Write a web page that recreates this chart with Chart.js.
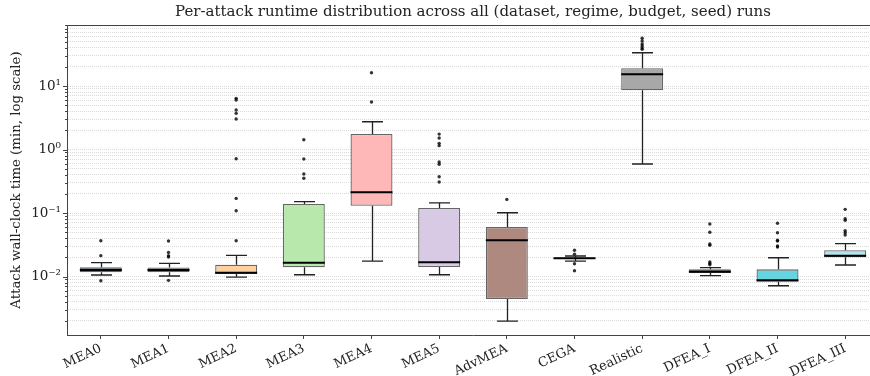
<!DOCTYPE html>
<html>
<head>
<meta charset="utf-8">
<script src="https://cdn.jsdelivr.net/npm/chart.js@4/dist/chart.umd.min.js"></script>
<style>
  html, body { margin: 0; padding: 0; background: #fff; overflow: hidden; }
  #wrap { position: relative; width: 882px; height: 376px; }
</style>
</head>
<body>
<div id="wrap"><canvas id="chart"></canvas></div>
<script>
// Attack methods (one box per method)
const attacks = ['MEA0', 'MEA1', 'MEA2', 'MEA3', 'MEA4', 'MEA5', 'AdvMEA', 'CEGA', 'Realistic', 'DFEA_I', 'DFEA_II', 'DFEA_III'];

// Five-number summaries of wall-clock time, in minutes
const whiskerLow  = [0.01056, 0.0102, 0.0098, 0.01067, 0.01754, 0.01067, 0.00199, 0.01754, 0.592, 0.0103, 0.00716, 0.0152];
const quartile1   = [0.01164, 0.0117, 0.01094, 0.01396, 0.1303, 0.01412, 0.00443, 0.01888, 8.56, 0.01135, 0.00828, 0.02004];
const medians     = [0.01265, 0.01265, 0.01148, 0.0165, 0.212, 0.01675, 0.0372, 0.01936, 15.3, 0.0119, 0.00871, 0.0213];
const quartile3   = [0.01396, 0.0139, 0.01535, 0.1386, 1.754, 0.12, 0.0603, 0.0200, 19.0, 0.01297, 0.01297, 0.0259];
const whiskerHigh = [0.0165, 0.01614, 0.0216, 0.1507, 2.74, 0.145, 0.101, 0.02104, 33.4, 0.01377, 0.01977, 0.0329];

// Runs beyond the whiskers
const outliers = [
  [0.0086, 0.0213, 0.0366],
  [0.0087, 0.0203, 0.0213, 0.024, 0.0362],
  [0.0366, 0.1086, 0.170, 0.716, 3.02, 3.71, 4.19, 6.03, 6.4],
  [0.352, 0.411, 0.708, 1.426],
  [5.6, 16.2],
  [0.308, 0.373, 0.585, 0.635, 1.15, 1.25, 1.52, 1.75],
  [0.164],
  [0.0123, 0.0159, 0.0224, 0.0259],
  [37.8, 39.7, 42.6, 45.8, 51.2, 56.4],
  [0.01535, 0.0161, 0.0169, 0.031, 0.0325, 0.0497, 0.0671],
  [0.0292, 0.0302, 0.0362, 0.0372, 0.049, 0.0689],
  [0.0451, 0.049, 0.0526, 0.0767, 0.0813, 0.1143]
];

const boxColors = ['#46627e', '#8c98a5', '#ffd0a0', '#b9e8ad', '#ffb8b8', '#d8cae4', '#ad8980', '#a0a0a0', '#a8a8a8', '#333333', '#66d5e0', '#b2e5ee'];

// Log axis: labelled decades and the range shown
const yDecades = [0.001, 0.01, 0.1, 1, 10];
const yLabelled = [0.01, 0.1, 1, 10];
const yTickLabels = ['10\u207B\u00B2', '10\u207B\u00B9', '10\u2070', '10\u00B9'];
const yMin = 0.0012;
const yMax = 91.4;

const SERIF = "'DejaVu Serif', serif";

// Every 1..9 x 10^k position inside the range (grid lines and ticks)
const yGridValues = [];
yDecades.forEach(d => {
  for (let m = 1; m <= 9; m++) {
    const v = +(d * m).toPrecision(6);
    if (v >= yMin && v <= yMax) yGridValues.push(v);
  }
});
const isLabelled = v => yLabelled.some(t => Math.abs(t - v) / t < 1e-6);

const outlierPoints = [];
attacks.forEach((name, i) => outliers[i].forEach(v => outlierPoints.push({ x: name, y: v })));

// Whiskers, caps, medians, y tick marks and the top spine
const boxDecor = {
  id: 'boxDecor',
  afterDatasetsDraw(chart) {
    const { ctx, scales: { y } } = chart;
    const meta = chart.getDatasetMeta(0);
    ctx.save();
    ctx.lineCap = 'butt';
    attacks.forEach((name, i) => {
      const bar = meta.data[i];
      const cx = Math.round(bar.x) + 0.5;
      const half = bar.width / 2;
      const capHalf = half / 2;
      const pLo = y.getPixelForValue(whiskerLow[i]);
      const pQ1 = y.getPixelForValue(quartile1[i]);
      const pMed = y.getPixelForValue(medians[i]);
      const pQ3 = y.getPixelForValue(quartile3[i]);
      const pHi = y.getPixelForValue(whiskerHigh[i]);
      ctx.strokeStyle = '#222';
      ctx.lineWidth = 1.3;
      ctx.beginPath();
      ctx.moveTo(cx, pQ1); ctx.lineTo(cx, pLo);
      ctx.moveTo(cx, pQ3); ctx.lineTo(cx, pHi);
      ctx.moveTo(cx - capHalf, pLo); ctx.lineTo(cx + capHalf, pLo);
      ctx.moveTo(cx - capHalf, pHi); ctx.lineTo(cx + capHalf, pHi);
      ctx.stroke();
      ctx.strokeStyle = '#000';
      ctx.lineWidth = 2;
      ctx.beginPath();
      ctx.moveTo(bar.x - half, pMed); ctx.lineTo(bar.x + half, pMed);
      ctx.stroke();
    });
    ctx.restore();
  },
  afterDraw(chart) {
    const { ctx, chartArea, scales: { y } } = chart;
    ctx.save();
    ctx.strokeStyle = '#444';
    ctx.lineWidth = 1;
    ctx.beginPath();
    ctx.moveTo(chartArea.left, Math.round(chartArea.top) + 0.5);
    ctx.lineTo(chartArea.right, Math.round(chartArea.top) + 0.5);
    yGridValues.forEach(v => {
      const py = Math.round(y.getPixelForValue(v)) + 0.5;
      const len = isLabelled(v) ? 4 : 2;
      ctx.moveTo(chartArea.left - len, py);
      ctx.lineTo(chartArea.left, py);
    });
    ctx.stroke();
    ctx.restore();
  }
};

new Chart(document.getElementById('chart'), {
  type: 'bar',
  data: {
    labels: attacks,
    datasets: [
      {
        type: 'bar',
        data: attacks.map((_, i) => [quartile1[i], quartile3[i]]),
        backgroundColor: boxColors,
        borderColor: '#666',
        borderWidth: 1.3,
        borderSkipped: false,
        barPercentage: 0.62,
        categoryPercentage: 1,
        order: 2
      },
      {
        type: 'scatter',
        data: outlierPoints,
        pointRadius: 1.7,
        pointHoverRadius: 1.7,
        backgroundColor: 'rgba(0,0,0,0.8)',
        borderWidth: 0,
        order: 1
      }
    ]
  },
  options: {
    responsive: true,
    maintainAspectRatio: false,
    animation: false,
    layout: { padding: { left: 0, right: 3, top: 0, bottom: 0 } },
    plugins: {
      legend: { display: false },
      tooltip: { enabled: false },
      title: {
        display: true,
        fullSize: false,
        text: 'Per-attack runtime distribution across all (dataset, regime, budget, seed) runs',
        color: '#222',
        font: { family: SERIF, size: 15, weight: 'normal' },
        padding: { top: 3, bottom: 4 }
      }
    },
    scales: {
      x: {
        type: 'category',
        offset: true,
        grid: { display: true, drawOnChartArea: false, drawTicks: true, tickLength: 4, tickColor: '#444', offset: false },
        border: { display: true, color: '#444', width: 1 },
        ticks: { minRotation: 25, maxRotation: 25, autoSkip: false, color: '#222', font: { family: SERIF, size: 13 }, padding: 2 },
        afterFit: s => { s.height = 41; }
      },
      y: {
        type: 'logarithmic',
        min: yMin,
        max: yMax,
        afterBuildTicks: s => { s.ticks = yGridValues.map(v => ({ value: v })); },
        afterFit: s => { s.width = 67; },
        grid: { color: '#dadada', lineWidth: 1, drawTicks: false },
        border: { display: true, color: '#444', width: 1, dash: [1, 1] },
        ticks: {
          autoSkip: false,
          padding: 6,
          color: '#222',
          font: { family: SERIF, size: 13.5 },
          callback: v => {
            const k = yLabelled.findIndex(t => Math.abs(t - v) / t < 1e-6);
            return k >= 0 ? yTickLabels[k] : '';
          }
        },
        title: {
          display: true,
          text: 'Attack wall-clock time (min, log scale)',
          color: '#222',
          font: { family: SERIF, size: 13.3 },
          padding: { top: 9, bottom: 0 }
        }
      }
    }
  },
  plugins: [boxDecor]
});
</script>
</body>
</html>
